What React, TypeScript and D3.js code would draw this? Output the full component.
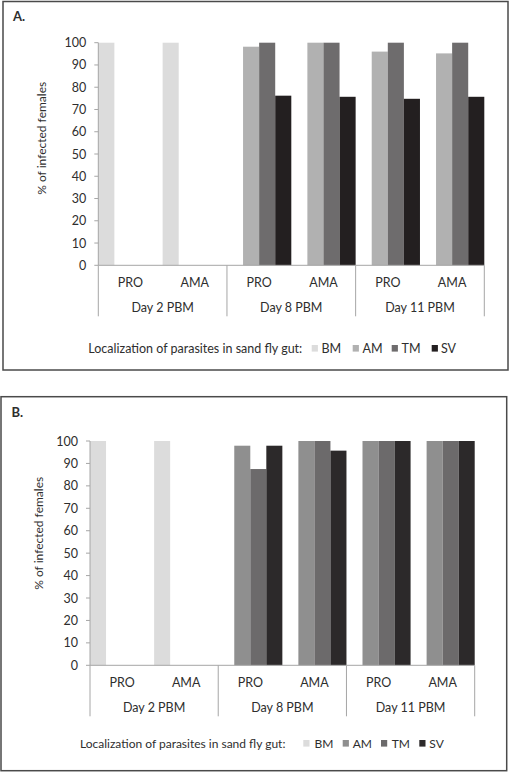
import React from "react";
import * as d3 from "d3";

const categories = ["PRO", "AMA", "PRO", "AMA", "PRO", "AMA"];
const days = ["Day 2 PBM", "Day 8 PBM", "Day 11 PBM"];
const seriesNames = ["BM", "AM", "TM", "SV"];
const yTicks = [0, 10, 20, 30, 40, 50, 60, 70, 80, 90, 100];

const bmA = [100, 100, 0, 0, 0, 0];
const amA = [0, 0, 98.2, 100, 96, 95.2];
const tmA = [0, 0, 100, 100, 100, 100];
const svA = [0, 0, 76.2, 75.7, 74.8, 75.7];

const bmB = [100, 100, 0, 0, 0, 0];
const amB = [0, 0, 97.9, 100, 100, 100];
const tmB = [0, 0, 87.5, 100, 100, 100];
const svB = [0, 0, 97.9, 95.7, 100, 100];

const colorsA = ["#dcdcdc", "#b1b1b1", "#6e6c6d", "#231f20"];
const colorsB = ["#dcdcdc", "#8f8f8f", "#6c6a6b", "#2c292a"];

const FONT = "Lato, 'Open Sans', sans-serif";
const TXT = "#2e2e2e";
const AXIS = "#a6a6a6";

type PanelProps = {
  label: string;
  data: number[][];
  colors: string[];
  box: [number, number, number, number];
  x0: number;
  x1: number;
  yTop: number;
  yBottom: number;
  labelX: number;
  labelY: number;
  ylabX: number;
  ylabY: number;
  legendY: number;
  legendTextX: number;
  legendSquares: number[];
  legendTexts: number[];
  legendFont: number;
  tickFont: number;
};

function Panel(p: PanelProps) {
  const x = d3.scaleBand<number>().domain(d3.range(categories.length)).range([p.x0, p.x1]).padding(0);
  const xs = d3.scaleBand<number>().domain(d3.range(seriesNames.length)).range([0, x.bandwidth()]).padding(0);
  const y = d3.scaleLinear().domain([0, 100]).range([p.yBottom, p.yTop]);
  const w = x.bandwidth();
  const row1 = p.yBottom + 17;
  const row2 = p.yBottom + 42.5;
  const divBottom = p.yBottom + 51;
  const [bx, by, bw, bh] = p.box;
  return (
    <g>
      <rect x={bx} y={by} width={bw} height={bh} fill="#fff" stroke="#4a4a4a" strokeWidth={1.5} />
      <text x={p.labelX} y={p.labelY} fontFamily={FONT} fontWeight="bold" fontSize={13} fill={TXT} dominantBaseline="central">
        {p.label}
      </text>
      {p.data.map((vals, si) =>
        vals.map((v, ci) =>
          v > 0 ? (
            <rect
              key={`${si}-${ci}`}
              x={(x(ci) as number) + (xs(si) as number)}
              y={y(v)}
              width={xs.bandwidth()}
              height={y(0) - y(v)}
              fill={p.colors[si]}
            />
          ) : null
        )
      )}
      <line x1={p.x0} x2={p.x0} y1={p.yTop} y2={p.yBottom} stroke={AXIS} strokeWidth={1} />
      {yTicks.map((t) => (
        <g key={t}>
          <line x1={p.x0 - 4} x2={p.x0} y1={y(t)} y2={y(t)} stroke={AXIS} strokeWidth={1} />
          <text x={p.x0 - 12} y={y(t)} textAnchor="end" dominantBaseline="central" fontFamily={FONT} fontSize={p.tickFont} fill={TXT}>
            {t}
          </text>
        </g>
      ))}
      <text
        transform={`translate(${p.ylabX},${p.ylabY}) rotate(-90)`}
        textAnchor="middle"
        dominantBaseline="central"
        fontFamily={FONT}
        fontSize={12}
        fill={TXT}
      >
        % of infected females
      </text>
      <line x1={p.x0} x2={p.x1} y1={p.yBottom} y2={p.yBottom} stroke={AXIS} strokeWidth={1} />
      {[0, 2, 4, 6].map((i) => {
        const xx = i < 6 ? (x(i) as number) : p.x1;
        return <line key={i} x1={xx} x2={xx} y1={p.yBottom} y2={divBottom} stroke={AXIS} strokeWidth={1} />;
      })}
      {categories.map((c, i) => (
        <text key={i} x={(x(i) as number) + w / 2} y={row1} textAnchor="middle" dominantBaseline="central" fontFamily={FONT} fontSize={p.tickFont} fill={TXT}>
          {c}
        </text>
      ))}
      {days.map((d, i) => (
        <text key={d} x={(x(i * 2) as number) + w} y={row2} textAnchor="middle" dominantBaseline="central" fontFamily={FONT} fontSize={p.tickFont} fill={TXT}>
          {d}
        </text>
      ))}
      <text x={p.legendTextX} y={p.legendY} dominantBaseline="central" fontFamily={FONT} fontSize={p.legendFont} fill={TXT}>
        Localization of parasites in sand fly gut:
      </text>
      {seriesNames.map((s, i) => (
        <g key={s}>
          <rect x={p.legendSquares[i]} y={p.legendY - 3.3} width={6.2} height={6.6} fill={p.colors[i]} />
          <text x={p.legendTexts[i]} y={p.legendY} dominantBaseline="central" fontFamily={FONT} fontSize={p.legendFont} fill={TXT}>
            {s}
          </text>
        </g>
      ))}
    </g>
  );
}

export default function App() {
  return (
    <svg width={510} height={772} style={{ position: "absolute", left: 0, top: 0, background: "#fff" }}>
      <Panel
        label="A."
        data={[bmA, amA, tmA, svA]}
        colors={colorsA}
        box={[3, 1.5, 505, 368.5]}
        x0={98.3}
        x1={484.3}
        yTop={42.7}
        yBottom={265.3}
        labelX={13}
        labelY={16}
        ylabX={41.7}
        ylabY={138.3}
        legendY={348.3}
        legendTextX={88.3}
        legendSquares={[311.7, 352.7, 391.7, 431.7]}
        legendTexts={[321.5, 362.5, 401.5, 441]}
        legendFont={12.5}
        tickFont={12.5}
      />
      <Panel
        label="B."
        data={[bmB, amB, tmB, svB]}
        colors={colorsB}
        box={[1, 396.7, 505.7, 374]}
        x0={90}
        x1={474.7}
        yTop={441}
        yBottom={665.3}
        labelX={11.5}
        labelY={412}
        ylabX={38.3}
        ylabY={533.3}
        legendY={743.3}
        legendTextX={80}
        legendSquares={[303.3, 342.7, 381, 419.3]}
        legendTexts={[314.5, 352.7, 391.7, 429.3]}
        legendFont={12}
        tickFont={12.5}
      />
    </svg>
  );
}
